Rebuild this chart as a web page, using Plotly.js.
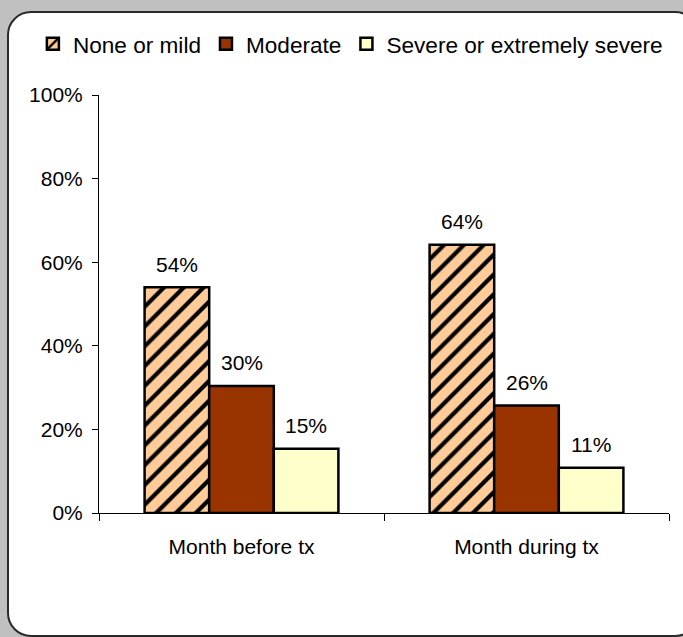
<!DOCTYPE html>
<html>
<head>
<meta charset="utf-8">
<script src="https://cdn.plot.ly/plotly-3.0.1.min.js"></script>
<style>
  html, body { margin: 0; padding: 0; background: #c0c0c0; overflow: hidden; }
  #wrap { position: relative; width: 683px; height: 637px; }
  #panel { position: absolute; left: 7px; top: 11px; width: 688px; height: 622px;
           background: #ffffff; border: 2px solid #2a2a2a; border-radius: 24px; }
  #chart { position: absolute; left: 0; top: 0; width: 683px; height: 637px; }
</style>
</head>
<body>
<div id="wrap">
  <div id="panel"></div>
  <div id="chart"></div>
</div>
<script>
const categories = ["Month before tx", "Month during tx"];
const seriesNames = ["None or mild", "Moderate", "Severe or extremely severe"];
const noneOrMild = [54, 64.2];
const moderate = [30.4, 25.7];
const severe = [15.4, 10.8];
const noneOrMildLabels = ["54%", "64%"];
const moderateLabels = ["30%", "26%"];
const severeLabels = ["15%", "11%"];
const yTickVals = [0, 20, 40, 60, 80, 100];
const yTickText = ["0%", "20%", "40%", "60%", "80%", "100%"];

const values = [noneOrMild, moderate, severe];
const labels = [noneOrMildLabels, moderateLabels, severeLabels];
const colors = ["#FFCC99", "#993300", "#FFFFCC"];
const bargap = 0.32;
const FONT = "Arial, 'Liberation Sans', sans-serif";

const traces = values.map((v, j) => {
  const marker = { color: colors[j], line: { color: "#000000", width: 2.5 } };
  if (j === 0) {
    marker.pattern = { shape: "/", fgcolor: "#000000", bgcolor: "#FFCC99", size: 14, solidity: 0.3, fillmode: "replace" };
  }
  return { type: "bar", name: seriesNames[j], x: categories, y: v, marker: marker, hoverinfo: "skip" };
});

const annotations = [];
values.forEach((v, j) => {
  v.forEach((val, i) => {
    annotations.push({
      xref: "x", yref: "y",
      x: i + (j - 1) * (1 - bargap) / 3,
      y: val,
      text: labels[j][i],
      showarrow: false,
      yanchor: "middle",
      yshift: 23,
      font: { family: FONT, size: 21, color: "#000000" }
    });
  });
});

const layout = {
  width: 683, height: 637,
  margin: { l: 99, r: 14, t: 95, b: 124 },
  paper_bgcolor: "rgba(0,0,0,0)",
  plot_bgcolor: "rgba(0,0,0,0)",
  barmode: "group",
  bargap: bargap,
  bargroupgap: 0,
  font: { family: FONT, size: 21, color: "#000000" },
  showlegend: true,
  legend: {
    orientation: "h", x: -0.116, xanchor: "left", y: 1.122, yanchor: "middle",
    font: { family: FONT, size: 22.6, color: "#000000" },
    itemwidth: 30, tracegroupgap: 0, bgcolor: "rgba(0,0,0,0)"
  },
  xaxis: {
    type: "category",
    showline: true, linecolor: "#000000", linewidth: 1,
    ticks: "outside", tickson: "boundaries", ticklen: 7, tickcolor: "#000000",
    ticklabelstandoff: 15,
    showgrid: false, zeroline: false,
    tickfont: { family: FONT, size: 21, color: "#000000" }
  },
  yaxis: {
    range: [0, 100], tickvals: yTickVals, ticktext: yTickText,
    showline: true, linecolor: "#000000", linewidth: 1,
    ticks: "outside", ticklen: 6, tickcolor: "#000000",
    ticklabelstandoff: 5,
    showgrid: false, zeroline: false,
    tickfont: { family: FONT, size: 21, color: "#000000" }
  },
  annotations: annotations
};

Plotly.newPlot("chart", traces, layout, { displayModeBar: false, staticPlot: true });
</script>
</body>
</html>
